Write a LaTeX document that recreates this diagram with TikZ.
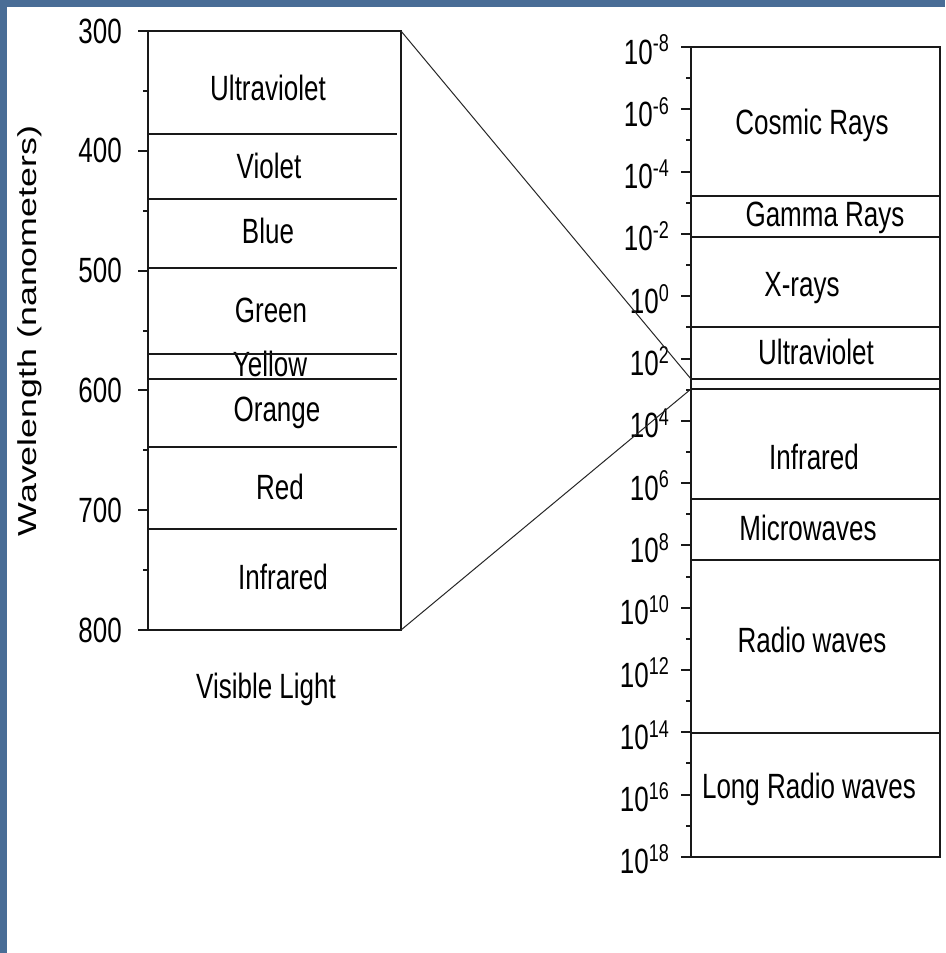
\documentclass[tikz,border=0pt]{standalone}
\usepackage{fontspec}
\setmainfont{Liberation Sans}
\definecolor{slideblue}{RGB}{73,109,150}
\begin{document}
\begin{tikzpicture}[x=1pt,y=-1pt,
  lbl/.style={inner sep=0pt, font=\fontsize{26}{30}\selectfont, yscale=1.35, text=black},
  rule/.style={line width=2pt, black!90},
  link/.style={line width=1pt, black!85},
]
\useasboundingbox (0,0) rectangle (945,953);
% page and slide frame
\fill[white] (0,0) rectangle (945,953);
\fill[slideblue] (0,0) rectangle (945,7);
\fill[slideblue] (0,0) rectangle (7,953);

% ---------- visible light column (300--800 nm) ----------
\node[lbl, yscale=1.02, rotate=90] (ytitle) at (30,331) {Wavelength (nanometers)};
\foreach \n in {300,400,...,800} {
  \pgfmathsetmacro\yy{31+(\n-300)*1.198}
  \draw[rule] (138,\yy) -- (148,\yy);
  \node[lbl, anchor=east] (nm\n) at (122,\yy) {\n};
}
\foreach \n in {350,450,...,750} {
  \pgfmathsetmacro\yy{31+(\n-300)*1.198}
  \draw[rule] (143,\yy) -- (148,\yy);
}
\node[lbl] (vUV)  at (268,87.5) {Ultraviolet};
\node[lbl] (vVi)  at (269,166)  {Violet};
\node[lbl] (vBl)  at (268,231)  {Blue};
\node[lbl] (vGr)  at (271,310)  {Green};
\node[lbl] (vYe)  at (270,364)  {Yellow};
\node[lbl] (vOr)  at (277,413)  {Orange};
\node[lbl] (vRe)  at (280,487)  {Red};
\node[lbl] (vIR)  at (283,577)  {Infrared};
\node[lbl] (vcap) at (266,689)  {Visible Light};
\draw[rule] (148,31) rectangle (401,630);
\foreach \d in {134,199,268,354,379,447,529}
  \draw[rule] (148,\d) -- (397,\d);

% ---------- full spectrum column (10^-8 -- 10^18) ----------
\foreach [count=\i from 0] \e in {-8,-6,...,18} {
  \pgfmathsetmacro\yy{47+(\e+8)*31.15}
  \draw[rule] (681,\yy) -- (691,\yy);
  \node[lbl, anchor=base east] (pw\i) at (669,\yy+17)
    {10\raisebox{9pt}{\fontsize{18}{18}\selectfont\e}};
}
\foreach \e in {-7,-5,...,17} {
  \pgfmathsetmacro\yy{47+(\e+8)*31.15}
  \draw[rule] (686,\yy) -- (691,\yy);
}
\node[lbl] (sCR) at (812,125) {Cosmic Rays};
\node[lbl] (sGR) at (825,218) {Gamma Rays};
\node[lbl] (sXR) at (802,288) {X-rays};
\node[lbl] (sUV) at (816,352) {Ultraviolet};
\node[lbl] (sIR) at (814,457) {Infrared};
\node[lbl] (sMW) at (808,528) {Microwaves};
\node[lbl] (sRW) at (812,640) {Radio waves};
\node[lbl] (sLR) at (809,789) {Long Radio waves};
\draw[rule] (691,47) rectangle (940,857);
\foreach \d in {196,237,327,379,389,499,560,733}
  \draw[rule] (691,\d) -- (940,\d);

% ---------- zoom connectors ----------
\coordinate (visTop) at (401,31);
\coordinate (visBot) at (401,630);
\coordinate (bandTop) at (691,379);
\coordinate (bandBot) at (691,389);
\draw[link] (visTop) -- (bandTop);
\draw[link] (visBot) -- (bandBot);
\end{tikzpicture}
\end{document}
